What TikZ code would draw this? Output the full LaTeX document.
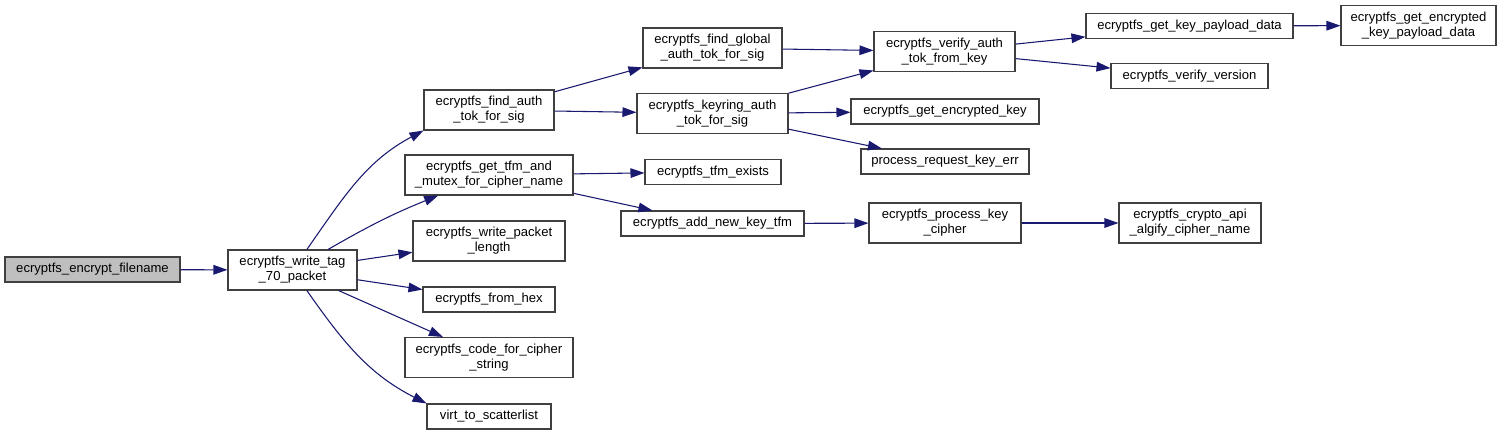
\documentclass[tikz,border=0pt]{standalone}
\usepackage{fontspec}
\setmainfont{Liberation Sans}
\usepackage{xcolor}
\definecolor{EdgeBlue}{RGB}{25,25,112}
\definecolor{BoxBorder}{RGB}{64,64,64}
\definecolor{FillRoot}{RGB}{191,191,191}
\usepackage{tikz}
\usetikzlibrary{arrows.meta, positioning}
\tikzset{
  % Function box
  fbox/.style={
    rectangle, draw=BoxBorder, line width=0.8pt,
    fill=white, align=center, inner sep=0pt,
    font=\fontsize{9.8}{11.25}\selectfont
  },
  fbox root/.style={fbox, fill=FillRoot},
  % Box sizes, given in pixels of the original
  bw/.style={minimum width=#1*0.75pt},
  one/.style={minimum height=25*0.75pt},
  two/.style={minimum height=40*0.75pt},
  % Call arrows
  arr/.style={-{Triangle[length=10.5pt,width=7.2pt]}, line width=0.8pt, EdgeBlue},
}
\begin{document}
\begin{tikzpicture}[x=0.75pt, y=-0.75pt]

  \useasboundingbox (0,0) rectangle (1505,435);

  \node[fbox root, bw=175, one] (root) at (92.5,269.5) {ecryptfs\_encrypt\_filename};

  \node[fbox, bw=129, two] (tag) at (292.5,270) {ecryptfs\_write\_tag\\\_70\_packet};

  \node[fbox, bw=130, two] (findauth) at (489,110) {ecryptfs\_find\_auth\\\_tok\_for\_sig};
  \node[fbox, bw=168, two] (gettfm) at (489,175) {ecryptfs\_get\_tfm\_and\\\_mutex\_for\_cipher\_name};
  \node[fbox, bw=152, two] (pktlen) at (489,241) {ecryptfs\_write\_packet\\\_length};
  \node[fbox, bw=132, one] (fromhex) at (489,299.5) {ecryptfs\_from\_hex};
  \node[fbox, bw=168, two] (codecipher) at (489,357.5) {ecryptfs\_code\_for\_cipher\\\_string};
  \node[fbox, bw=124, one] (virt) at (489,416.5) {virt\_to\_scatterlist};

  \node[fbox, bw=139, two] (findglobal) at (712.5,48) {ecryptfs\_find\_global\\\_auth\_tok\_for\_sig};
  \node[fbox, bw=151, two] (keyring) at (712.5,113.5) {ecryptfs\_keyring\_auth\\\_tok\_for\_sig};
  \node[fbox, bw=136, one] (tfmexists) at (713,172) {ecryptfs\_tfm\_exists};
  \node[fbox, bw=183, one] (addkey) at (712.5,223.5) {ecryptfs\_add\_new\_key\_tfm};

  \node[fbox, bw=141, two] (verify) at (944.5,51.5) {ecryptfs\_verify\_auth\\\_tok\_from\_key};
  \node[fbox, bw=188, one] (getenckey) at (945,111.5) {ecryptfs\_get\_encrypted\_key};
  \node[fbox, bw=168, one] (keyerr) at (945,161.5) {process\_request\_key\_err};
  \node[fbox, bw=152, two] (keycipher) at (945,223) {ecryptfs\_process\_key\\\_cipher};

  \node[fbox, bw=207, one] (payload) at (1189.5,26) {ecryptfs\_get\_key\_payload\_data};
  \node[fbox, bw=157, one] (version) at (1189.5,76) {ecryptfs\_verify\_version};
  \node[fbox, bw=142, two] (algify) at (1190,223) {ecryptfs\_crypto\_api\\\_algify\_cipher\_name};

  \node[fbox, bw=155, two] (encpayload) at (1418.5,25.5) {ecryptfs\_get\_encrypted\\\_key\_payload\_data};

  %% Arrows
  \draw[arr] (root) -- (tag);
  \draw[arr] (tag) to[out=55, in=-152] (findauth.south west);
  \draw[arr] (tag) to[out=30, in=-158] (gettfm);
  \draw[arr] (tag) -- (pktlen);
  \draw[arr] (tag) -- (fromhex);
  \draw[arr] (tag) -- (codecipher);
  \draw[arr] (tag) to[out=-55, in=153] (virt.north west);
  \draw[arr] (findauth) -- (findglobal);
  \draw[arr] (findauth) -- (keyring);
  \draw[arr] (findglobal) -- (verify);
  \draw[arr] (keyring) -- (verify);
  \draw[arr] (keyring) -- (getenckey);
  \draw[arr] (keyring) -- (keyerr);
  \draw[arr] (verify) -- (payload);
  \draw[arr] (verify) -- (version);
  \draw[arr] (payload) -- (encpayload);
  \draw[arr] (gettfm) -- (tfmexists);
  \draw[arr] (gettfm) -- (addkey);
  \draw[arr] (addkey) -- (keycipher);
  \draw[arr] (keycipher) -- (algify);

\end{tikzpicture}
\end{document}
